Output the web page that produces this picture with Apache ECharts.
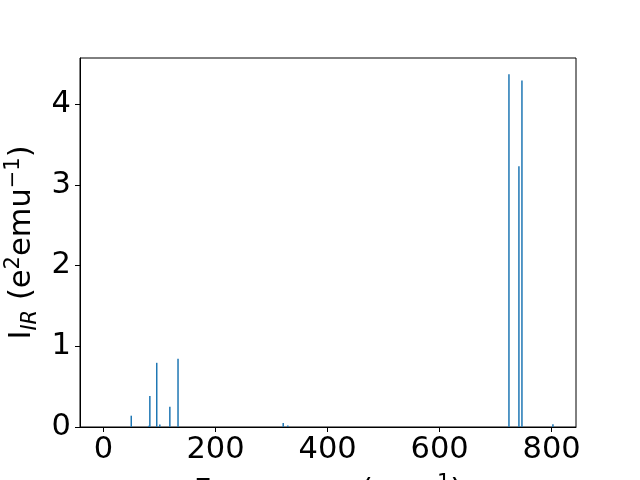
<!DOCTYPE html>
<html>
<head>
<meta charset="utf-8">
<script src="https://cdn.jsdelivr.net/npm/echarts@6/dist/echarts.min.js"></script>
<style>html,body{margin:0;padding:0;background:#fff;}#c{width:640px;height:480px;}</style>
</head>
<body>
<div id="c"></div>
<script>
const frequencies = [49.5, 81, 82.7, 95, 100.5, 118.4, 133, 320.8, 329, 723.8, 741.6, 747, 802.3];
const intensities = [0.14, 0.015, 0.385, 0.795, 0.03, 0.25, 0.845, 0.05, 0.02, 4.37, 3.23, 4.29, 0.035];
const xTicks = [0, 200, 400, 600, 800];
const yTicks = [0, 1, 2, 3, 4];

const chart = echarts.init(document.getElementById('c'), null, {renderer: 'canvas'});
const FONT = 'DejaVu Sans';
const FS = 30.5;
chart.setOption({
  animation: false,
  backgroundColor: '#fff',
  grid: {left: 80, right: 64, top: 58, bottom: 53, containLabel: false, outerBoundsMode: 'none',
    show: true, borderColor: '#000', borderWidth: 1, backgroundColor: 'transparent'},
  xAxis: {
    type: 'value', min: -42, max: 843.5,
    splitLine: {show: false},
    axisLine: {show: true, onZero: false, lineStyle: {color: '#000', width: 1}},
    axisTick: {show: true, length: 5, lineStyle: {color: '#000'}, customValues: xTicks},
    axisLabel: {customValues: xTicks, color: '#000', fontFamily: FONT, fontSize: FS, margin: 8},
    name: 'Frequency (cm{sup|−1})',
    nameLocation: 'middle', nameGap: 46,
    nameTextStyle: {color: '#000', fontFamily: FONT, fontSize: FS, verticalAlign: 'top', lineHeight: 38,
      rich: {sup: {fontSize: 21, verticalAlign: 'top', fontFamily: FONT, color: '#000', lineHeight: 38}}}
  },
  yAxis: {
    type: 'value', min: 0, max: 4.57,
    splitLine: {show: false},
    axisLine: {show: true, onZero: false, lineStyle: {color: '#000', width: 1}},
    axisTick: {show: true, length: 5, lineStyle: {color: '#000'}, customValues: yTicks},
    axisLabel: {customValues: yTicks, color: '#000', fontFamily: FONT, fontSize: FS, margin: 9},
    name: 'I{sub|IR} (e{sup|2}emu{sup|−1})',
    nameLocation: 'middle', nameGap: 38, nameRotate: 90,
    nameTextStyle: {color: '#000', fontFamily: FONT, fontSize: FS, lineHeight: 38,
      rich: {
        sup: {fontSize: 21, verticalAlign: 'top', fontFamily: FONT, color: '#000', lineHeight: 38},
        sub: {fontSize: 21, fontStyle: 'italic', verticalAlign: 'bottom', fontFamily: FONT, color: '#000', lineHeight: 32}
      }}
  },
  series: [{
    type: 'bar',
    barWidth: 1.5,
    itemStyle: {color: '#1f77b4'},
    data: frequencies.map((f, i) => [f, intensities[i]])
  }]
});
</script>
</body>
</html>
